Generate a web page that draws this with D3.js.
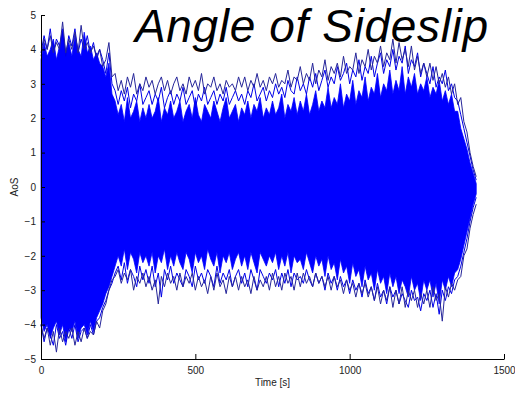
<!DOCTYPE html>
<html>
<head>
<meta charset="utf-8">
<script src="https://cdn.jsdelivr.net/npm/d3@7"></script>
<style>
  body { margin: 0; background: #fff; }
  text { font-family: "Liberation Sans", Arial, sans-serif; }
</style>
</head>
<body>
<div id="canvas"></div>
<script>
// Angle of sideslip record (deg vs. s)
// every series is sampled once per 10 s, from 0 to 1410 s
const sampleStep = 10;

// jagged edges of the solid blue band
const bandTop = [
  3.7, 4.2, 3.8, 4.0, 4.3, 3.7, 4.1, 4.6, 3.9, 4.2,
  3.8, 4.4, 4.0, 3.8, 4.5, 3.9, 4.1, 3.7, 3.9, 3.6,
  3.5, 3.2, 3.6, 2.7, 2.5,
  2.1, 2.4, 1.9, 2.6, 2.0, 2.2, 2.5, 1.9, 2.3, 2.0,
  2.4, 2.0, 2.2, 2.6, 1.9, 2.3, 2.1, 2.5, 2.0, 2.2,
  2.5, 1.9, 2.2, 2.4, 2.0, 2.6, 2.1, 1.9, 2.4, 2.2,
  2.0, 2.5, 2.2, 1.9, 2.3, 2.6, 2.0, 2.2, 2.4, 1.9,
  2.3, 2.1, 2.5, 2.0, 2.4, 2.2, 2.6, 2.0, 2.3, 2.1,
  2.5, 2.1, 2.3, 2.7, 2.0, 2.4, 2.2, 2.6, 2.1, 2.5,
  2.2, 2.7, 2.1, 2.4, 2.8, 2.2, 2.5, 2.3, 2.9, 2.3,
  2.6, 2.4, 3.0, 2.3, 2.7, 2.5, 3.1, 2.4, 2.8, 2.6,
  3.2, 2.5, 2.9, 2.7, 3.3, 2.6, 3.0, 2.8, 3.4, 2.7,
  3.1, 2.8, 3.5, 2.7, 3.2, 2.9, 3.3, 2.7, 3.0, 2.8,
  3.2, 2.6, 2.9, 2.7, 3.1, 2.5, 2.8, 2.4, 2.7, 2.2,
  2.2, 1.7, 1.4, 1.1, 0.7, 0.4, 0.1
];

const bandBottom = [
  -3.8, -4.2, -4.0, -4.4, -4.1, -3.9, -4.3, -4.0, -4.5, -4.1,
  -4.2, -3.9, -4.4, -4.1, -4.0, -4.3, -3.9, -4.2, -3.8, -3.6,
  -3.4, -3.1, -2.9, -2.6, -2.3,
  -2.0, -2.3, -1.8, -2.4, -1.9, -2.1, -2.5, -1.9, -2.2, -2.0,
  -2.3, -1.9, -2.5, -2.0, -2.2, -1.8, -2.4, -2.0, -2.3, -1.9,
  -2.2, -2.4, -1.9, -2.1, -2.5, -1.9, -2.2, -2.0, -2.4, -1.8,
  -2.1, -2.3, -1.9, -2.5, -2.0, -2.2, -1.9, -2.4, -2.1, -1.9,
  -2.3, -2.0, -2.4, -1.9, -2.2, -2.5, -1.9, -2.1, -2.3, -2.0,
  -2.2, -1.9, -2.4, -2.0, -2.3, -1.9, -2.5, -2.0, -2.2, -2.1,
  -2.4, -1.9, -2.2, -2.5, -2.0, -2.3, -2.1, -2.6, -2.0, -2.4,
  -2.2, -2.7, -2.1, -2.5, -2.3, -2.8, -2.2, -2.6, -2.4, -2.9,
  -2.3, -2.7, -2.5, -3.0, -2.4, -2.8, -2.6, -3.1, -2.5, -2.9,
  -2.6, -3.1, -2.7, -2.9, -3.2, -2.6, -3.0, -2.8, -3.3, -2.7,
  -3.0, -2.7, -3.2, -2.8, -3.4, -2.7, -3.0, -2.6, -2.9, -2.5,
  -2.4, -2.1, -1.7, -1.3, -0.9, -0.5, -0.2
];

// excursion traces above and below the band
const upperMid = [
  3.9, 4.4, 4.0, 4.6, 3.9, 4.3, 4.1, 4.5, 3.8, 4.4,
  4.1, 4.6, 3.9, 4.3, 4.0, 4.4, 3.9, 4.2, 3.7, 4.0,
  3.7, 3.3, 3.9, 3.0, 2.8,
  2.4, 2.8, 2.5, 2.9, 2.3, 2.7, 2.5, 3.0, 2.4, 2.6,
  2.8, 2.4, 2.7, 2.5, 2.9, 2.3, 2.6, 2.8, 2.4, 2.7,
  2.5, 2.9, 2.4, 2.6, 2.8, 2.3, 2.7, 2.5, 2.9, 2.4,
  2.6, 2.8, 2.4, 2.7, 2.5, 2.9, 2.4, 2.6, 2.8, 2.5,
  2.7, 2.4, 2.8, 2.6, 3.0, 2.5, 2.7, 2.9, 2.5, 2.8,
  2.6, 3.0, 2.7, 2.9, 2.6, 3.1, 2.8, 2.7, 3.2, 2.8,
  3.0, 2.7, 3.2, 2.9, 3.3, 2.8, 3.1, 3.4, 2.9, 3.2,
  3.0, 3.5, 3.1, 3.3, 3.6, 3.0, 3.4, 3.2, 3.7, 3.1,
  3.5, 3.3, 3.8, 3.2, 3.6, 3.9, 3.3, 3.7, 3.5, 4.0,
  3.4, 3.8, 3.6, 4.1, 3.3, 3.7, 3.5, 3.9, 3.2, 3.6,
  3.3, 3.0, 3.5, 2.9, 3.2, 3.0, 3.4, 2.8, 3.0, 2.6,
  2.5, 2.1, 1.7, 1.3, 0.9, 0.5, 0.2
];

const upperOuter = [
  3.8, 4.3, 4.0, 4.4, 3.9, 4.2, 4.0, 4.8, 3.9, 4.3,
  4.0, 4.5, 3.9, 4.7, 4.0, 4.2, 3.9, 4.1, 3.8, 4.0,
  3.5, 3.7, 4.2, 3.2, 3.3,
  2.8, 3.1, 2.7, 3.2, 2.9, 3.3, 2.7, 3.0, 2.8, 3.2,
  2.9, 3.1, 2.7, 3.0, 3.2, 2.8, 3.1, 2.7, 3.0, 3.2,
  2.8, 3.0, 2.7, 3.2, 2.9, 3.1, 2.8, 3.3, 2.7, 3.0,
  2.9, 3.2, 2.8, 3.0, 2.7, 3.1, 2.9, 3.0, 2.8, 3.2,
  2.9, 3.2, 2.8, 3.1, 2.9, 3.3, 2.9, 3.1, 2.8, 3.2,
  3.0, 3.3, 2.9, 3.1, 3.0, 3.4, 2.9, 3.2, 3.1, 3.5,
  3.0, 3.3, 3.1, 3.6, 3.0, 3.4, 3.2, 3.7, 3.1, 3.5,
  3.3, 3.6, 3.2, 3.8, 3.3, 3.5, 3.4, 3.9, 3.3, 3.7,
  3.5, 4.0, 3.4, 3.8, 3.6, 4.1, 3.5, 3.9, 3.7, 4.3,
  3.6, 4.2, 3.7, 4.0, 3.5, 4.1, 3.4, 3.8, 3.3, 3.6,
  3.2, 3.6, 3.1, 3.5, 3.0, 3.3, 2.9, 3.2, 2.7, 3.0,
  2.4, 2.6, 1.9, 1.6, 1.0, 0.6, 0.3
];

const lowerMid = [
  -4.0, -4.5, -4.1, -4.3, -4.6, -4.0, -4.4, -4.2, -4.6, -4.1,
  -4.4, -4.0, -4.5, -4.2, -4.1, -4.4, -4.0, -4.3, -3.9, -3.8,
  -3.5, -3.3, -3.0, -2.8, -2.5,
  -2.3, -2.7, -2.2, -2.8, -2.4, -2.6, -2.9, -2.3, -2.7, -2.4,
  -2.8, -2.3, -2.9, -2.5, -3.2, -2.4, -2.7, -2.3, -2.8, -2.5,
  -2.7, -2.9, -2.4, -2.6, -2.9, -2.3, -2.7, -2.5, -2.8, -2.4,
  -2.6, -2.9, -2.3, -2.8, -2.5, -2.7, -2.4, -2.9, -2.6, -2.4,
  -2.8, -2.5, -2.9, -2.4, -2.7, -3.0, -2.4, -2.6, -2.8, -2.5,
  -2.7, -2.4, -2.9, -2.5, -2.8, -2.4, -2.9, -2.5, -2.7, -2.6,
  -2.8, -2.4, -2.7, -2.9, -2.5, -2.8, -2.6, -3.0, -2.5, -2.8,
  -2.6, -3.0, -2.6, -2.9, -2.7, -3.1, -2.7, -3.0, -2.8, -3.2,
  -2.7, -3.1, -2.9, -3.3, -2.8, -3.2, -3.0, -3.4, -2.9, -3.2,
  -3.0, -3.4, -3.1, -3.3, -3.5, -3.0, -3.3, -3.2, -3.6, -3.1,
  -3.3, -3.0, -3.5, -3.1, -3.7, -3.0, -3.3, -2.9, -3.1, -2.7,
  -2.6, -2.3, -1.9, -1.5, -1.0, -0.6, -0.3
];

const lowerOuter = [
  -4.0, -4.4, -4.1, -4.6, -4.2, -4.8, -4.1, -4.5, -4.2, -4.4,
  -4.1, -4.6, -4.2, -4.5, -4.1, -4.4, -4.2, -4.3, -3.9, -4.1,
  -3.6, -3.4, -3.0, -2.7, -2.6,
  -2.4, -2.8, -2.5, -2.7, -2.4, -3.0, -2.6, -2.8, -2.5, -2.9,
  -2.6, -3.0, -2.7, -3.4, -2.6, -2.9, -2.5, -2.8, -2.6, -3.0,
  -2.5, -2.9, -2.6, -2.8, -2.5, -3.0, -2.6, -2.9, -2.7, -3.1,
  -2.6, -3.0, -2.5, -2.9, -2.7, -3.1, -2.6, -2.9, -2.6, -3.0,
  -2.6, -2.9, -2.7, -3.1, -2.6, -3.0, -2.7, -2.9, -2.6, -3.0,
  -2.5, -2.9, -2.6, -3.0, -2.5, -2.8, -2.6, -3.0, -2.5, -2.9,
  -2.5, -2.8, -2.6, -2.9, -2.5, -2.8, -2.6, -2.9, -2.6, -3.0,
  -2.6, -2.9, -2.7, -3.1, -2.7, -3.0, -2.8, -3.2, -2.8, -3.1,
  -2.8, -3.2, -2.9, -3.3, -2.9, -3.4, -3.0, -3.3, -2.9, -3.5,
  -3.0, -3.4, -2.9, -3.5, -3.0, -3.3, -3.0, -3.5, -3.1, -3.4,
  -3.0, -3.5, -2.9, -3.3, -3.1, -3.9, -2.9, -3.2, -2.8, -3.0,
  -2.7, -2.6, -2.0, -1.8, -1.2, -0.8, -0.5
];

const xTicks = [0, 500, 1000, 1500];
const yTicks = [-5, -4, -3, -2, -1, 0, 1, 2, 3, 4, 5];

// dimensions
const W = 515, H = 394;
const margin = {top: 15, right: 11, bottom: 35, left: 41};

const svg = d3.select("#canvas")
    .append("svg")
    .attr("width", W)
    .attr("height", H);

const x = d3.scaleLinear()
    .domain([0, 1500])
    .range([margin.left, W - margin.right]);

const y = d3.scaleLinear()
    .domain([-5, 5])
    .range([H - margin.bottom, margin.top]);

// solid band between the jagged edges
svg.append("path")
    .datum(bandTop.map((v, i) => ({hi: v, lo: bandBottom[i]})))
    .attr("fill", "#0000ff")
    .attr("stroke", "#0000ff")
    .attr("stroke-width", 0.8)
    .attr("d", d3.area()
        .x((d, i) => x(i * sampleStep))
        .y0(d => y(d.lo))
        .y1(d => y(d.hi)));

// excursion traces
const traceLine = d3.line()
    .x((d, i) => x(i * sampleStep))
    .y(d => y(d));

const traces = [
    {vals: upperMid, color: "#0000e8"},
    {vals: lowerMid, color: "#0000e8"},
    {vals: upperOuter, color: "#26269a"},
    {vals: lowerOuter, color: "#26269a"}
];
traces.forEach(function(tr) {
    svg.append("path")
        .datum(tr.vals)
        .attr("fill", "none")
        .attr("stroke", tr.color)
        .attr("stroke-width", 1)
        .attr("d", traceLine);
});

// axes (MATLAB style: left + bottom only, ticks inside)
const xAxis = svg.append("g")
    .attr("transform", "translate(0," + (H - margin.bottom) + ")")
    .call(d3.axisBottom(x).tickValues(xTicks).tickFormat(d3.format("d"))
        .tickSizeInner(-5).tickSizeOuter(0).tickPadding(8));

const yAxis = svg.append("g")
    .attr("transform", "translate(" + margin.left + ",0)")
    .call(d3.axisLeft(y).tickValues(yTicks).tickFormat(d3.format("d"))
        .tickSizeInner(-4).tickSizeOuter(0).tickPadding(5));

[xAxis, yAxis].forEach(function(ax) {
    ax.select(".domain").attr("stroke", "#000");
    ax.selectAll(".tick line").attr("stroke", "#000");
    ax.selectAll(".tick text")
        .attr("fill", "#222")
        .style("font-size", "10px")
        .style("font-family", "'Liberation Sans', Arial, sans-serif");
});

svg.append("text")
    .attr("x", (x(0) + x(1500)) / 2)
    .attr("y", 386)
    .attr("text-anchor", "middle")
    .style("font-size", "10px")
    .attr("fill", "#222")
    .text("Time [s]");

svg.append("text")
    .attr("transform", "translate(18," + y(0) + ") rotate(-90)")
    .attr("text-anchor", "middle")
    .style("font-size", "10px")
    .attr("fill", "#222")
    .text("AoS");

// big title drawn over the data
svg.append("text")
    .attr("x", 135)
    .attr("y", 42)
    .style("font-size", "46px")
    .style("font-style", "italic")
    .attr("textLength", 353)
    .attr("lengthAdjust", "spacing")
    .attr("fill", "#000")
    .text("Angle of Sideslip");
</script>
</body>
</html>
